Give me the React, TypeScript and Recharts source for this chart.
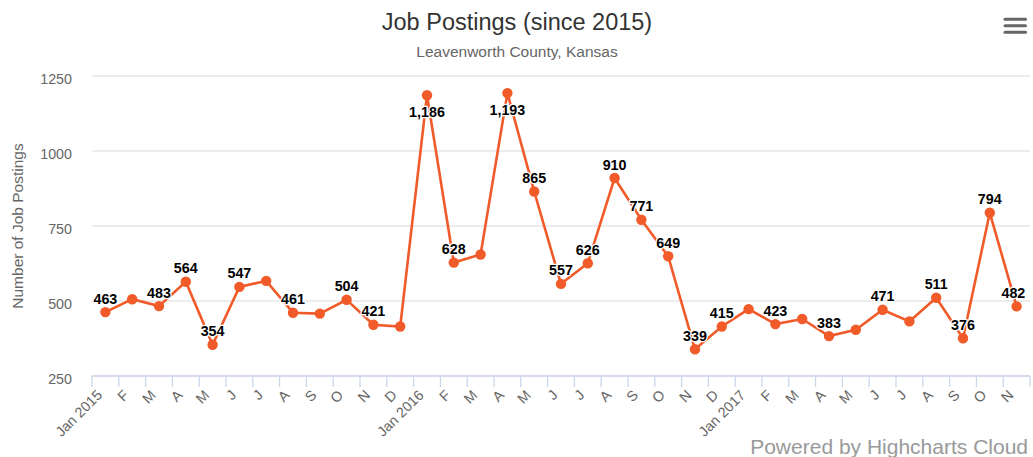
import { CartesianGrid, LabelList, Line, LineChart, XAxis, YAxis } from "recharts";

// month ticks (Highcharts datetime axis: Jan shows year, others just the initial)
const tickLabels = [
  "Jan 2015", "F", "M", "A", "M", "J", "J", "A", "S", "O", "N", "D",
  "Jan 2016", "F", "M", "A", "M", "J", "J", "A", "S", "O", "N", "D",
  "Jan 2017", "F", "M", "A", "M", "J", "J", "A", "S", "O", "N",
];

// monthly job postings, Jan 2015 .. Nov 2017
const postings = [
  463, 506, 483, 564, 354, 547, 567, 461, 458, 504, 421, 415,
  1186, 628, 655, 1193, 865, 557, 626, 910, 771, 649, 339, 415,
  473, 423, 440, 383, 404, 471, 432, 511, 376, 794, 482,
];

// labels the original dropped because they overlapped
const hiddenLabels = [1, 6, 8, 11, 14, 24, 26, 28, 30];

const yTicks = [250, 500, 750, 1000, 1250];

const WIDTH = 1033;
const HEIGHT = 457;
const PLOT_TOP = 76;
const PLOT_RIGHT = 1030;
const FONT = '"Liberation Sans", Arial, Helvetica, sans-serif';
const ORANGE = "#f15a29";

const data = postings.map((value, i) => ({ x: i + 0.5, value }));
const xTicks = Array.from({ length: tickLabels.length + 1 }, (_, i) => i);

function MonthTick({ x, y, payload }: any) {
  const text = tickLabels[payload.value];
  if (!text) return null;
  const ax = x + 11;
  const ay = y + 9;
  return (
    <text
      x={ax}
      y={ay}
      transform={`rotate(-45 ${ax} ${ay})`}
      textAnchor="end"
      fill="#666"
      fontSize={14.3}
      fontFamily={FONT}
    >
      {text}
    </text>
  );
}

function ValueTick({ x, y, payload }: any) {
  return (
    <text x={x} y={y + 8} textAnchor="end" fill="#666" fontSize={14.3} fontFamily={FONT}>
      {payload.value}
    </text>
  );
}

function PointLabel(props: any) {
  const { x, y, value, index } = props;
  if (hiddenLabels.includes(index)) return null;
  const text = Number(value).toLocaleString("en-US");
  const half = text.length * 4.2;
  const cx = Math.min(x, PLOT_RIGHT - half - 4);
  // flip inside the plot when there is no room above
  const above = y - 28 >= PLOT_TOP;
  const ty = above ? y - 8.5 : y + 22;
  return (
    <text
      x={cx}
      y={ty}
      textAnchor="middle"
      fontSize={14.3}
      fontWeight="bold"
      fontFamily={FONT}
      fill="#000"
      stroke="#fff"
      strokeWidth={2.5}
      strokeLinejoin="round"
      paintOrder="stroke"
    >
      {text}
    </text>
  );
}

export default function App() {
  return (
    <div
      style={{
        position: "absolute",
        left: 0,
        top: 0,
        width: WIDTH,
        height: HEIGHT,
        background: "#fff",
        fontFamily: FONT,
      }}
    >
      <LineChart width={WIDTH} height={HEIGHT} data={data} margin={{ top: PLOT_TOP, right: 3, bottom: 0, left: 0 }}>
        <CartesianGrid vertical={false} stroke="#e6e6e6" strokeWidth={1.3} />
        <XAxis
          type="number"
          dataKey="x"
          domain={[0, tickLabels.length]}
          ticks={xTicks}
          interval={0}
          height={81}
          stroke="#ccd6eb"
          axisLine={{ stroke: "#ccd6eb", strokeWidth: 1.3 }}
          tickLine={{ stroke: "#ccd6eb", strokeWidth: 1.3 }}
          tickSize={11}
          tickMargin={0}
          tick={MonthTick}
        />
        <YAxis
          type="number"
          domain={[250, 1250]}
          ticks={yTicks}
          width={92}
          axisLine={false}
          tickLine={false}
          tickSize={0}
          tickMargin={20}
          tick={ValueTick}
        />
        <Line
          type="linear"
          dataKey="value"
          stroke={ORANGE}
          strokeWidth={2.6}
          dot={{ r: 5.2, fill: ORANGE, stroke: ORANGE, strokeWidth: 0 }}
          activeDot={false}
          isAnimationActive={false}
        >
          <LabelList dataKey="value" content={PointLabel} />
        </Line>
      </LineChart>
      <svg
        width={WIDTH}
        height={HEIGHT}
        style={{ position: "absolute", left: 0, top: 0, pointerEvents: "none" }}
      >
        <text x={517} y={30} textAnchor="middle" fontSize={23.5} fill="#333" fontFamily={FONT}>
          Job Postings (since 2015)
        </text>
        <text x={517} y={57} textAnchor="middle" fontSize={15.5} fill="#666" fontFamily={FONT}>
          Leavenworth County, Kansas
        </text>
        <text
          x={22.5}
          y={226}
          transform="rotate(-90 22.5 226)"
          textAnchor="middle"
          fontSize={15.5}
          fill="#666"
          fontFamily={FONT}
        >
          Number of Job Postings
        </text>
        <text x={1028} y={454} textAnchor="end" fontSize={21} fill="#999" fontFamily={FONT}>
          Powered by Highcharts Cloud
        </text>
        <g stroke="#666" strokeWidth={3} strokeLinecap="round">
          <line x1={1005} y1={19.3} x2={1025.5} y2={19.3} />
          <line x1={1005} y1={25.8} x2={1025.5} y2={25.8} />
          <line x1={1005} y1={32.3} x2={1025.5} y2={32.3} />
        </g>
      </svg>
    </div>
  );
}
